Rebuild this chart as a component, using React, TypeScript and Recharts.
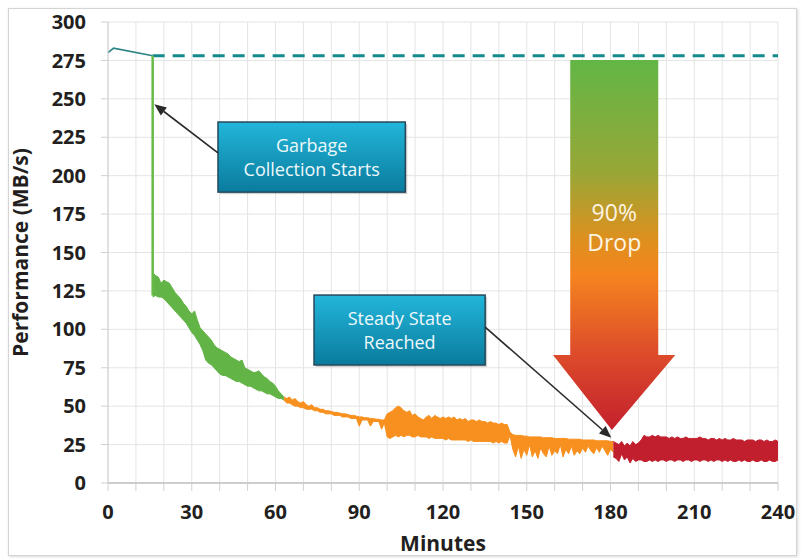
import React from "react";
import {
  ComposedChart,
  Line,
  Area,
  XAxis,
  YAxis,
  CartesianGrid,
  ReferenceArea,
  ReferenceLine,
} from "recharts";

// ---- data (minutes vs MB/s) ----
const X_TICKS = [0, 10, 20, 30, 40, 50, 60, 70, 80, 90, 100, 110, 120, 130, 140, 150, 160, 170, 180, 190, 200, 210, 220, 230, 240];
const X_LABELS = [0, 30, 60, 90, 120, 150, 180, 210, 240];
const Y_TICKS = [0, 25, 50, 75, 100, 125, 150, 175, 200, 225, 250, 275, 300];

const FRESH_T = [0, 2, 16];
const FRESH_V = [280, 283, 278];
const BASELINE = 278;

const GC_T = 16;
const GC_DROP = [278, 122];

const GREEN_START = 16;
const GREEN_HI = [137, 135, 134, 130, 132, 131, 130, 127, 124, 122, 120, 117, 115, 112, 110, 112, 106, 101, 99, 97, 95, 93, 90, 88, 87, 86, 85, 84, 82, 81, 80, 79, 80, 75, 74, 73, 72, 72, 73, 71, 69, 68, 66, 65, 63, 60, 58, 56];
const GREEN_LO = [121, 122, 121, 121, 120, 118, 116, 114, 112, 110, 108, 106, 104, 101, 98, 96, 93, 90, 86, 80, 78, 77, 75, 73, 71, 70, 70, 69, 68, 67, 66, 66, 65, 64, 63, 63, 62, 61, 60, 60, 59, 58, 58, 57, 56, 55, 55, 54];

const ORANGE_START = 63;
const ORANGE_HI = [
  56, 55, 56, 54, 55, 53, 52, 53, 51, 50,
  51, 49, 49, 48, 48, 47, 47, 46.5, 46, 46,
  45.5, 45, 45, 44.5, 44, 44, 43.5, 43, 43, 42.5,
  42.5, 42, 42, 41.5, 41.5, 41, 41, 45, 46, 47,
  49, 50, 49, 47, 46, 47, 44, 45, 43, 42,
  41, 43, 44, 42, 44, 43, 42, 43, 42, 43,
  42, 43, 41, 42, 41, 42, 40, 41, 41, 40,
  41, 40, 40, 39, 40, 39, 39, 38, 39, 38,
  38, 33, 31.5, 31, 31, 31, 30.5, 30.5, 30, 30,
  30, 30, 30, 29.5, 29.5, 29.5, 29.5, 29, 29, 29,
  29, 29, 28.5, 28.5, 28.5, 28.5, 28.5, 28, 28, 28,
  28, 28, 27.5, 27.5, 27.5, 27.5, 27.5, 27, 27,
];
const ORANGE_LO = [
  54, 52, 52, 51, 50, 50, 49, 49, 48, 48,
  48, 47, 47, 46, 46, 45, 45, 45, 44, 44,
  44, 43, 43, 43, 42, 42, 42, 37, 41, 41,
  41, 37, 40, 40, 40, 35, 39, 30, 29, 30,
  31, 30, 31, 30, 31, 31, 30, 30, 31, 30,
  30, 30, 29, 30, 29, 29, 29, 29, 28, 29,
  28, 28, 28, 28, 28, 28, 27, 28, 27, 27,
  27, 27, 27, 27, 27, 26, 27, 26, 27, 26,
  26, 31, 22, 17, 24, 16, 22, 18, 25, 17,
  21, 16, 23, 19, 17, 24, 18, 21, 19, 25,
  17, 22, 19, 24, 18, 21, 19, 23, 20, 24,
  21, 19, 23, 20, 24, 21, 18, 22, 20,
];

const RED_START = 181;
const RED_HI = [
  27, 26, 25, 27, 24, 26, 24, 27, 25, 26, 28, 31, 30, 30, 31, 30, 31, 30, 30, 30, 29, 30, 29, 30, 29, 29, 30, 29, 29, 29,
  29, 30, 29, 29, 28, 29, 29, 28, 29, 28,
  29, 28, 28, 29, 28, 28, 28, 27, 28, 28,
  28, 27, 28, 28, 27, 28, 27, 27, 28, 27,
];
const RED_LO = [
  17, 16, 14, 19, 15, 17, 13, 16, 14, 15, 15, 14, 14, 15, 14, 15, 14, 15, 15, 14, 15, 15, 14, 15, 15, 14, 15, 15, 14, 15,
  15, 14, 15, 15, 14, 15, 14, 15, 15, 14,
  15, 14, 15, 14, 14, 15, 14, 15, 14, 14,
  15, 14, 14, 15, 14, 14, 15, 14, 14, 15,
];

// annotation anchors in data units
const GC_BOX = { x1: 39.4, x2: 106.5, y1: 189.3, y2: 234.9 };
const GC_ARROW = [{ x: 39.4, y: 214.8 }, { x: 16.6, y: 246.5 }];
const STEADY_BOX = { x1: 73.8, x2: 135.1, y1: 76.8, y2: 122.3 };
const STEADY_ARROW = [{ x: 135.1, y: 101.5 }, { x: 180.3, y: 29.5 }];
const DROP_ARROW = { x1: 159.4, x2: 203.2, y1: 34.5, y2: 275.2 };

const band = (start: number, hi: number[], lo: number[]) =>
  hi.map((h, i) => ({ t: start + i, range: [lo[i], h] }));

const freshData = FRESH_T.map((t, i) => ({ t, v: FRESH_V[i] }));
const baselineData = [{ t: GC_T, v: BASELINE }, { t: 240, v: BASELINE }];
const dropData = GC_DROP.map((v) => ({ t: GC_T, v }));
const greenData = band(GREEN_START, GREEN_HI, GREEN_LO);
const orangeData = band(ORANGE_START, ORANGE_HI, ORANGE_LO);
const redData = band(RED_START, RED_HI, RED_LO);

const FONT = "'Open Sans', 'Noto Sans', sans-serif";

const callout = (id: string, lines: string[]) => (props: any) => {
  const { x, y, width, height } = props;
  const cx = x + width / 2;
  const cy = y + height / 2;
  return (
    <g>
      <defs>
        <linearGradient id={id} x1="0" y1="0" x2="0" y2="1">
          <stop offset="0" stopColor="#22b6da" />
          <stop offset="1" stopColor="#0a7b9d" />
        </linearGradient>
      </defs>
      <rect x={x + 2} y={y + 2} width={width} height={height} fill="#000" opacity={0.18} />
      <rect x={x} y={y} width={width} height={height} fill={`url(#${id})`} stroke="#25485a" strokeWidth={1.5} />
      {lines.map((s, i) => (
        <text
          key={s}
          x={cx}
          y={cy + (i - (lines.length - 1) / 2) * 24}
          textAnchor="middle"
          dominantBaseline="central"
          fill="#eef8fb"
          fontFamily={FONT}
          fontSize={18}
        >
          {s}
        </text>
      ))}
    </g>
  );
};

const pointer = (props: any) => {
  const { x1, y1, x2, y2 } = props;
  const a = Math.atan2(y2 - y1, x2 - x1);
  const L = 12;
  const W = 5;
  const bx = x2 - L * Math.cos(a);
  const by = y2 - L * Math.sin(a);
  const px = -Math.sin(a) * W;
  const py = Math.cos(a) * W;
  return (
    <g>
      <line x1={x1} y1={y1} x2={bx} y2={by} stroke="#2a2a2a" strokeWidth={1.6} />
      <polygon points={`${x2},${y2} ${bx + px},${by + py} ${bx - px},${by - py}`} fill="#2a2a2a" />
    </g>
  );
};

const dropArrow = (props: any) => {
  const { x, y, width: w, height: h } = props;
  const sl = x + 0.141 * w;
  const sr = x + 0.861 * w;
  const hy = y + 0.797 * h;
  const tx = x + 0.482 * w;
  const cx = (sl + sr) / 2;
  const pts = [
    [sl, y], [sr, y], [sr, hy], [x + w, hy], [tx, y + h], [x, hy], [sl, hy],
  ].map((p) => p.join(",")).join(" ");
  return (
    <g>
      <defs>
        <linearGradient id="dropGrad" x1="0" y1="0" x2="0" y2="1">
          <stop offset="0" stopColor="#62b646" />
          <stop offset="0.3" stopColor="#97a737" />
          <stop offset="0.48" stopColor="#dc911f" />
          <stop offset="0.58" stopColor="#f5841f" />
          <stop offset="0.8" stopColor="#dc4a2a" />
          <stop offset="1" stopColor="#c4202d" />
        </linearGradient>
      </defs>
      <polygon points={pts} fill="url(#dropGrad)" />
      <text x={cx} y={y + 0.41 * h} textAnchor="middle" dominantBaseline="central" fill="#fdf4e4" fontFamily={FONT} fontSize={23}>
        90%
      </text>
      <text x={cx} y={y + 0.492 * h} textAnchor="middle" dominantBaseline="central" fill="#fdf4e4" fontFamily={FONT} fontSize={23}>
        Drop
      </text>
    </g>
  );
};

const tickStyle = { fill: "#231f20", fontSize: 20, fontWeight: 700, fontFamily: FONT };

export default function App() {
  return (
    <div style={{ position: "absolute", left: 0, top: 0, width: 801, height: 558, background: "#fff" }}>
      <div
        style={{
          position: "absolute",
          left: 8,
          top: 8,
          width: 787,
          height: 546,
          border: "1px solid #d4d4d4",
          boxShadow: "1px 1px 3px rgba(0,0,0,0.15)",
        }}
      />
      <div style={{ position: "absolute", left: 0, top: 0 }}>
        <ComposedChart width={801} height={558} margin={{ top: 22, right: 23, left: 0, bottom: 0 }}>
          <CartesianGrid
            stroke="#e4e4e4"
            strokeWidth={1}
            verticalValues={X_TICKS}
            horizontalValues={Y_TICKS}
          />
          <XAxis
            type="number"
            dataKey="t"
            domain={[0, 240]}
            ticks={X_TICKS}
            interval={0}
            height={75}
            tickFormatter={(v: number) => (X_LABELS.includes(v) ? String(v) : "")}
            tick={tickStyle}
            tickSize={8}
            tickMargin={14}
            tickLine={{ stroke: "#d0d0d0" }}
            axisLine={{ stroke: "#a9a9a9" }}
            label={{ value: "Minutes", position: "insideBottom", offset: 7, fill: "#231f20", fontSize: 21, fontWeight: 700, fontFamily: FONT }}
          />
          <YAxis
            type="number"
            domain={[0, 300]}
            ticks={Y_TICKS}
            interval={0}
            width={108}
            tick={tickStyle}
            tickSize={7}
            tickMargin={15}
            tickLine={{ stroke: "#d0d0d0" }}
            axisLine={{ stroke: "#d0d0d0" }}
            label={{
              value: "Performance (MB/s)",
              angle: -90,
              position: "insideLeft",
              offset: 21,
              style: { textAnchor: "middle" },
              fill: "#231f20",
              fontSize: 21,
              fontWeight: 700,
              fontFamily: FONT,
            }}
          />
          <Line data={baselineData} dataKey="v" stroke="#148a8c" strokeWidth={3} strokeDasharray="12 8" dot={false} isAnimationActive={false} />
          <Line data={freshData} dataKey="v" type="linear" stroke="#2b8384" strokeWidth={1.6} dot={false} isAnimationActive={false} />
          <Line data={dropData} dataKey="v" stroke="#66bb46" strokeWidth={2.5} dot={false} isAnimationActive={false} />
          <Area data={greenData} dataKey="range" type="linear" stroke="#62b446" strokeWidth={1} fill="#62b446" fillOpacity={1} isAnimationActive={false} />
          <Area data={orangeData} dataKey="range" type="linear" stroke="#f7901e" strokeWidth={1} fill="#f7901e" fillOpacity={1} isAnimationActive={false} />
          <Area data={redData} dataKey="range" type="linear" stroke="#c21f2e" strokeWidth={1} fill="#c21f2e" fillOpacity={1} isAnimationActive={false} />
          <ReferenceArea {...DROP_ARROW} shape={dropArrow} zIndex={600} />
          <ReferenceArea {...GC_BOX} shape={callout("gcGrad", ["Garbage", "Collection Starts"])} zIndex={600} />
          <ReferenceArea {...STEADY_BOX} shape={callout("ssGrad", ["Steady State", "Reached"])} zIndex={600} />
          <ReferenceLine segment={GC_ARROW} shape={pointer} zIndex={700} />
          <ReferenceLine segment={STEADY_ARROW} shape={pointer} zIndex={700} />
        </ComposedChart>
      </div>
    </div>
  );
}
